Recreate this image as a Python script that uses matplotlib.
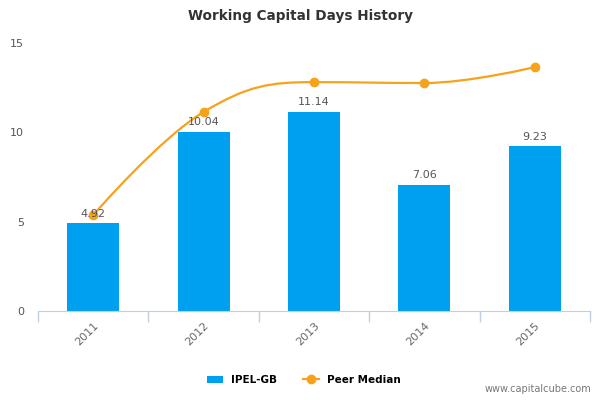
import numpy as np
import matplotlib.pyplot as plt
from matplotlib.path import Path
from matplotlib.patches import PathPatch

years = ['2011', '2012', '2013', '2014', '2015']
company = [4.92, 10.04, 11.14, 7.06, 9.23]
peer_median = [5.37, 11.14, 12.81, 12.76, 13.65]

bar_color = '#00a0f0'
line_color = '#f7a21b'


def spline_controls(xs, ys, smoothing=1.5):
    # highcharts-like spline control points
    denom = smoothing + 1
    n = len(xs)
    left = [(xs[i], ys[i]) for i in range(n)]
    right = [(xs[i], ys[i]) for i in range(n)]
    for i in range(1, n - 1):
        lx = (smoothing * xs[i] + xs[i-1]) / denom
        ly = (smoothing * ys[i] + ys[i-1]) / denom
        rx = (smoothing * xs[i] + xs[i+1]) / denom
        ry = (smoothing * ys[i] + ys[i+1]) / denom
        corr = (ry - ly) * (rx - xs[i]) / (rx - lx) + ys[i] - ry
        ly += corr
        ry += corr
        if ly > max(ys[i-1], ys[i]):
            ly = max(ys[i-1], ys[i])
            ry = 2 * ys[i] - ly
        elif ly < min(ys[i-1], ys[i]):
            ly = min(ys[i-1], ys[i])
            ry = 2 * ys[i] - ly
        if ry > max(ys[i+1], ys[i]):
            ry = max(ys[i+1], ys[i])
            ly = 2 * ys[i] - ry
        elif ry < min(ys[i+1], ys[i]):
            ry = min(ys[i+1], ys[i])
            ly = 2 * ys[i] - ry
        left[i] = (lx, ly)
        right[i] = (rx, ry)
    return left, right


fig = plt.figure(figsize=(6, 4), dpi=100)
ax = fig.add_axes([38/600, 89/400, 552/600, 268/400])

x = np.arange(len(years))
bars = ax.bar(x, company, width=0.47, color=bar_color, zorder=2, label='IPEL-GB')
for xi, v in zip(x, company):
    ax.text(xi, v + 0.25, f'{v:.2f}', ha='center', va='bottom', fontsize=8, color='#555555', zorder=4)

px = x.astype(float)
py = np.array(peer_median)
left, right = spline_controls(px, py)
verts = [(px[0], py[0])]
codes = [Path.MOVETO]
for i in range(len(px) - 1):
    verts += [right[i], left[i+1], (px[i+1], py[i+1])]
    codes += [Path.CURVE4] * 3
ax.add_patch(PathPatch(Path(verts, codes), fill=False, edgecolor=line_color, lw=1.6, zorder=3))
ax.plot(px, py, 'o', color=line_color, markersize=6, zorder=3)
peer_handle, = ax.plot([], [], '-o', color=line_color, markersize=6, lw=1.6, label='Peer Median')

ax.set_xlim(-0.5, 4.5)
ax.set_ylim(0, 15)
ax.set_yticks([0, 5, 10, 15])
ax.tick_params(axis='y', length=0, labelsize=8, labelcolor='#555555', pad=10)
ax.set_xticks(x)
ax.set_xticklabels(years, rotation=45, fontsize=8, color='#666666', ha='right', rotation_mode='anchor')
ax.tick_params(axis='x', length=0, pad=7)
# boundary ticks between categories
ax.set_xticks(np.arange(-0.5, 5.0, 1.0), minor=True)
ax.tick_params(axis='x', which='minor', length=8, color='#c0d0e0', width=1)
for s in ['top', 'right', 'left']:
    ax.spines[s].set_visible(False)
ax.spines['bottom'].set_color('#c0d0e0')

fig.text(0.5, 0.96, 'Working Capital Days History', ha='center', va='center',
         fontsize=9.8, fontweight='bold', color='#333333')
fig.legend(handles=[bars, peer_handle], loc='center', bbox_to_anchor=(0.507, 0.05), ncol=2,
           frameon=False, prop={'size': 7.5, 'weight': 'bold'}, handlelength=1.5, columnspacing=2.5)
fig.text(0.985, 0.015, 'www.capitalcube.com', ha='right', va='bottom', fontsize=7, color='#777777')

fig.savefig('out.png')
